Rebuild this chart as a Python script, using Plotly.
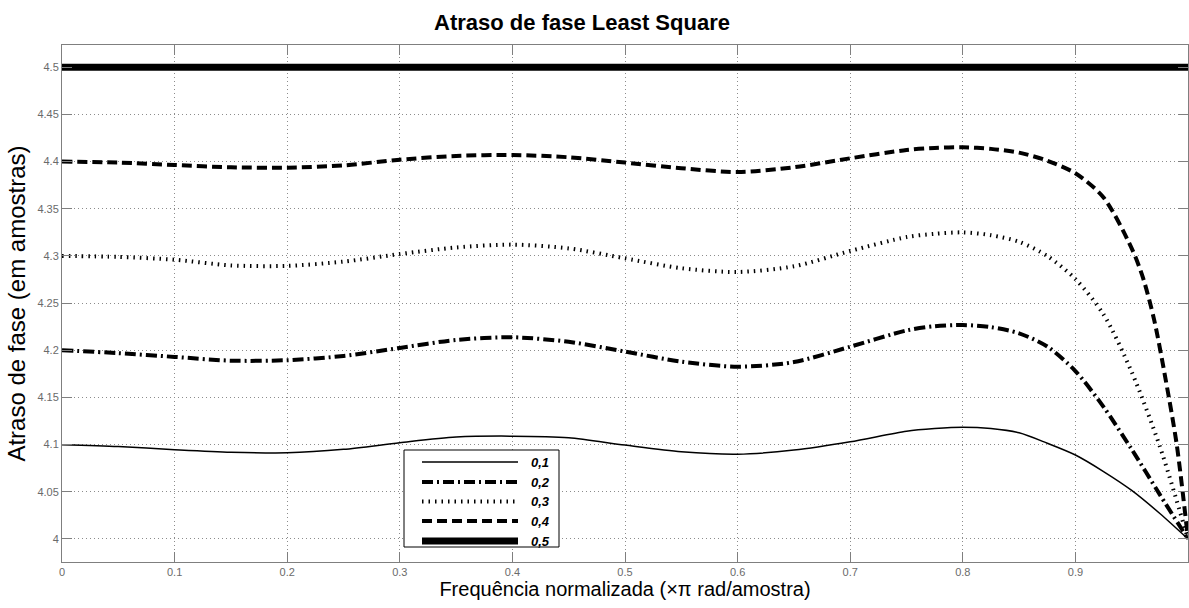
import plotly.graph_objects as go

# ---- data ----
labels = ["0,1", "0,2", "0,3", "0,4", "0,5"]

x_01 = [0, 0.05, 0.1, 0.15, 0.2, 0.25, 0.3, 0.35, 0.4, 0.45, 0.5, 0.55, 0.6, 0.65, 0.7, 0.75, 0.775, 0.8, 0.825, 0.85, 0.875, 0.9, 0.925, 0.95, 0.975, 1.0]
y_01 = [4.100, 4.098, 4.0947, 4.092, 4.0913, 4.095, 4.102, 4.108, 4.109, 4.1073, 4.0995, 4.0925, 4.0899, 4.0942, 4.103, 4.1142, 4.117, 4.1184, 4.117, 4.1125, 4.1015, 4.089, 4.0715, 4.0515, 4.027, 4.0]

x_02 = [0, 0.05, 0.1, 0.15, 0.2, 0.25, 0.3, 0.35, 0.4, 0.45, 0.5, 0.55, 0.6, 0.65, 0.7, 0.75, 0.775, 0.8, 0.825, 0.85, 0.875, 0.9, 0.925, 0.95, 0.975, 1.0]
y_02 = [4.200, 4.197, 4.193, 4.189, 4.1895, 4.194, 4.2025, 4.211, 4.2138, 4.209, 4.1986, 4.188, 4.1826, 4.1875, 4.2038, 4.221, 4.2255, 4.2268, 4.2245, 4.218, 4.204, 4.178, 4.140, 4.095, 4.047, 4.0]

x_03 = [0, 0.05, 0.1, 0.15, 0.2, 0.25, 0.3, 0.35, 0.4, 0.45, 0.5, 0.55, 0.6, 0.65, 0.7, 0.75, 0.775, 0.8, 0.825, 0.85, 0.875, 0.9, 0.925, 0.95, 0.975, 1.0]
y_03 = [4.300, 4.299, 4.296, 4.290, 4.2895, 4.294, 4.302, 4.309, 4.312, 4.308, 4.2975, 4.287, 4.283, 4.289, 4.3053, 4.320, 4.3235, 4.325, 4.322, 4.315, 4.300, 4.2755, 4.238, 4.177, 4.098, 4.0]

x_04 = [0, 0.05, 0.1, 0.15, 0.2, 0.25, 0.3, 0.35, 0.4, 0.45, 0.5, 0.55, 0.6, 0.65, 0.7, 0.75, 0.775, 0.8, 0.825, 0.85, 0.875, 0.9, 0.925, 0.95, 0.96, 0.97, 0.98, 0.99, 1.0]
y_04 = [4.400, 4.399, 4.3964, 4.394, 4.3936, 4.396, 4.402, 4.406, 4.407, 4.4046, 4.399, 4.393, 4.389, 4.394, 4.4035, 4.4123, 4.4145, 4.4152, 4.4135, 4.4095, 4.401, 4.3876, 4.362, 4.308, 4.277, 4.232, 4.170, 4.100, 4.0]

x_05 = [0, 1.0]
y_05 = [4.5, 4.5]

x_ticks = [0, 0.1, 0.2, 0.3, 0.4, 0.5, 0.6, 0.7, 0.8, 0.9]
x_ticklabels = ["0", "0.1", "0.2", "0.3", "0.4", "0.5", "0.6", "0.7", "0.8", "0.9"]
y_ticks = [4.0, 4.05, 4.1, 4.15, 4.2, 4.25, 4.3, 4.35, 4.4, 4.45, 4.5]
y_ticklabels = ["4", "4.05", "4.1", "4.15", "4.2", "4.25", "4.3", "4.35", "4.4", "4.45", "4.5"]

series_x = [x_01, x_02, x_03, x_04, x_05]
series_y = [y_01, y_02, y_03, y_04, y_05]

# ---- styles ----
styles = [
    dict(width=1.5, dash="solid"),
    dict(width=4, dash="11px,4px,2px,4px"),
    dict(width=4, dash="1.5px,5px"),
    dict(width=4, dash="10px,5px"),
    dict(width=7, dash="solid"),
]

FONT = "Liberation Sans, Arial, Helvetica, sans-serif"

fig = go.Figure()
for xs, ys, name, st in zip(series_x, series_y, labels, styles):
    fig.add_trace(go.Scatter(
        x=xs, y=ys, mode="lines", name=name,
        line=dict(color="black", width=st["width"], dash=st["dash"],
                  shape="spline", smoothing=0.8),
        showlegend=False,
    ))

# ---- legend box (drawn as shapes, matching the reference's long samples) ----
L_W, P_H = 1126.0, 517.0
def px(x):  # pixel inside plot area -> paper
    return (x - 62) / L_W
def py(y):
    return (562 - y) / P_H

fig.add_shape(type="rect", xref="paper", yref="paper",
              x0=px(404), x1=px(559), y0=py(547), y1=py(450),
              line=dict(color="black", width=1), fillcolor="white", layer="above")
row_y = [462, 482, 501.5, 521, 541]
for i, (name, st) in enumerate(zip(labels, styles)):
    fig.add_shape(type="line", xref="paper", yref="paper",
                  x0=px(422), x1=px(518), y0=py(row_y[i]), y1=py(row_y[i]),
                  line=dict(color="black", width=st["width"], dash=st["dash"]),
                  layer="above")
    fig.add_annotation(xref="paper", yref="paper", x=px(529), y=py(row_y[i]),
                       text="<b><i>" + name + "</i></b>", showarrow=False,
                       xanchor="left", yanchor="middle",
                       font=dict(family=FONT, size=13, color="black"))

axis_common = dict(
    showline=True, linecolor="#7f7f7f", linewidth=1, mirror="ticks",
    ticks="inside", ticklen=10, tickcolor="#7f7f7f", tickwidth=1,
    showgrid=True, gridcolor="#8c8c8c", griddash="1px,3px", gridwidth=1,
    zeroline=False,
    tickfont=dict(family=FONT, size=11, color="#6a6a6a"),
)

fig.update_xaxes(range=[0, 1], tickvals=x_ticks, ticktext=x_ticklabels,
                 title=dict(text="Frequência normalizada (×π rad/amostra)",
                            font=dict(family=FONT, size=20, color="black"),
                            standoff=3),
                 **axis_common)
fig.update_yaxes(range=[3.9756, 4.5236], tickvals=y_ticks, ticktext=y_ticklabels,
                 title=dict(text="Atraso de fase (em amostras)",
                            font=dict(family=FONT, size=24, color="black"),
                            standoff=4),
                 **axis_common)

fig.update_layout(
    width=1189, height=608,
    margin=dict(l=62, r=1, t=45, b=46),
    paper_bgcolor="white", plot_bgcolor="white",
    title=dict(text="<b>Atraso de fase Least Square</b>",
               x=582 / 1189, xanchor="center", y=1 - 22 / 608, yanchor="middle",
               font=dict(family=FONT, size=22, color="black")),
    showlegend=False,
)

fig.write_html("out.html")
